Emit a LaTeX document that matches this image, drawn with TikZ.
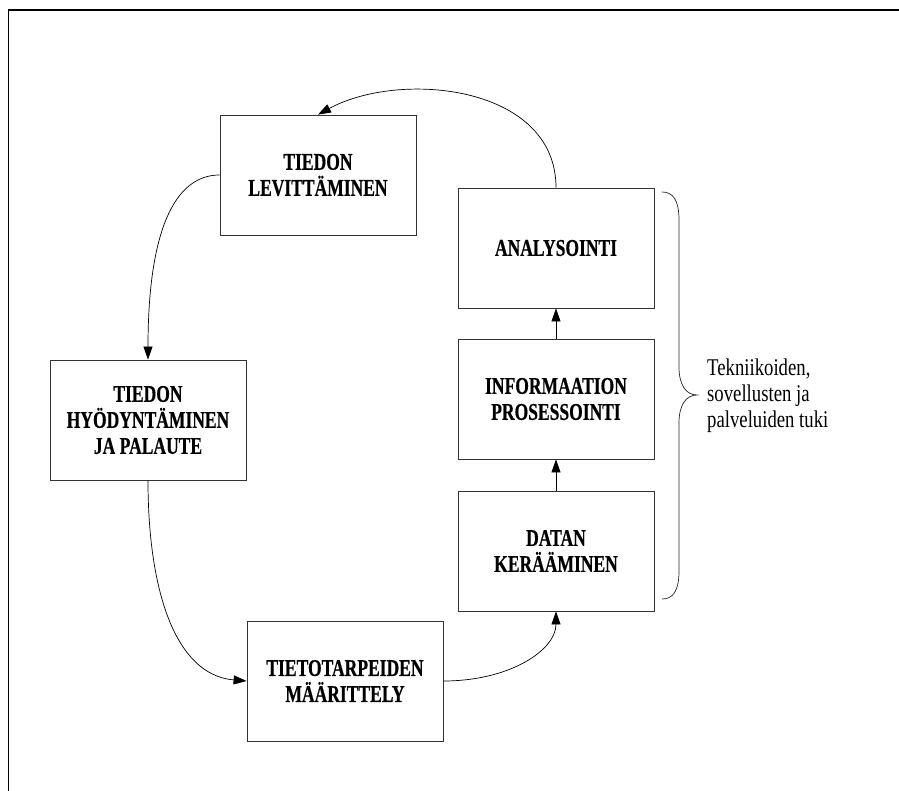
\documentclass[tikz,border=0pt]{standalone}
\usepackage{fontspec}
\setmainfont{Liberation Serif}
\newfontfamily\boxfont[FakeStretch=0.73,FakeBold=0.5]{Liberation Serif}
\newfontfamily\sidefont[FakeStretch=0.78]{Liberation Serif}
\usetikzlibrary{arrows.meta}
\begin{document}
\begin{tikzpicture}[x=1pt,y=-1pt,
  stagebox/.style={draw=black!80, line width=0.8pt, minimum width=196pt, minimum height=120pt,
    inner sep=0pt, align=center, font=\boxfont\bfseries\fontsize{24}{26}\selectfont},
  flow/.style={line width=0.7pt, -{Triangle[length=13pt,width=9pt]}},
  frameline/.style={line width=1.8pt}]
\useasboundingbox (0,0) rectangle (899,791);
\draw[frameline] (8.5,791) -- (8.5,10) -- (899,10);

\node[stagebox] (lev) at (318,175) {TIEDON\\LEVITTÄMINEN};
\node[stagebox] (ana) at (556,248) {ANALYSOINTI};
\node[stagebox] (inf) at (556,399) {INFORMAATION\\PROSESSOINTI};
\node[stagebox] (dat) at (556,551) {DATAN\\KERÄÄMINEN};
\node[stagebox] (hyo) at (148,420) {TIEDON\\HYÖDYNTÄMINEN\\JA PALAUTE};
\node[stagebox] (tie) at (345,681) {TIETOTARPEIDEN\\MÄÄRITTELY};

\draw[flow] (ana.north) .. controls (556,85) and (400,70) .. (lev.north);
\draw[flow] (lev.west) .. controls (175,175) and (148,230) .. (hyo.north);
\draw[flow] (hyo.south) .. controls (148,590) and (175,675) .. (tie.west);
\draw[flow] (tie.east) .. controls (510,681) and (556,650) .. (dat.south);
\draw[flow] (dat.north) -- (inf.south);
\draw[flow] (inf.north) -- (ana.south);

\draw[line width=0.7pt, black!85] (662,192) .. controls (673,192) and (679,200) .. (679,220)
  -- (679,367) .. controls (679,385) and (686,395) .. (697,395)
  .. controls (686,395) and (679,405) .. (679,423)
  -- (679,571) .. controls (679,591) and (673,599) .. (662,599);

\node[anchor=west, align=left, inner sep=0pt, font=\sidefont\fontsize{24}{25.8}\selectfont] (side) at (707,396)
  {Tekniikoiden,\\sovellusten ja\\palveluiden tuki};
\end{tikzpicture}
\end{document}
